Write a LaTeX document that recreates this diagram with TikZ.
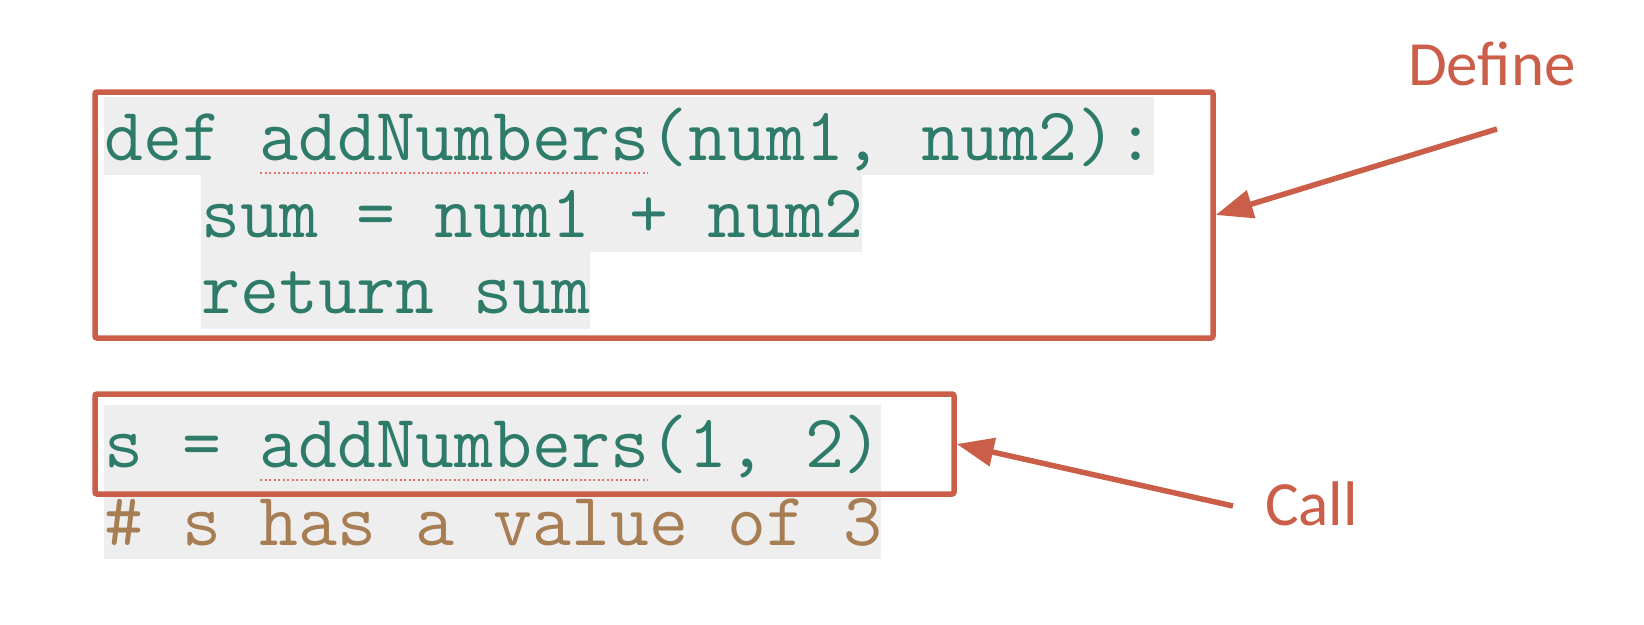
\documentclass[tikz,border=0pt]{standalone}
\usepackage{fontspec}
\newfontfamily\calib{Carlito}
\usetikzlibrary{arrows.meta}
\definecolor{boxred}{RGB}{203,94,73}
\definecolor{codeteal}{RGB}{46,123,106}
\definecolor{combrown}{RGB}{167,125,84}
\definecolor{hlgray}{RGB}{238,238,238}
\definecolor{squig}{RGB}{228,110,105}
\tikzset{
  codeline/.style={anchor=base west, inner sep=0pt, text=codeteal, font=\fontsize{75.6}{78}\selectfont\ttfamily},
  commentline/.style={codeline, text=combrown},
  hl/.style={fill=hlgray},
  framebox/.style={draw=boxred, line width=5.5pt, rounded corners=2pt, inner sep=0pt, fill=none},
  lbl/.style={anchor=base west, inner sep=0pt, text=boxred, font=\fontsize{63}{70}\selectfont\calib},
  pointer/.style={draw=boxred, line width=5.5pt, -{Triangle[length=37pt,width=28pt]}},
  squiggle/.style={draw=squig, line width=1.3pt, dash pattern=on 2pt off 2.5pt}
}
\begin{document}
\begin{tikzpicture}[x=1pt,y=-1pt]
\useasboundingbox (0,0) rectangle (1644,624);
% highlight backgrounds
\fill[hl] (104,97) rectangle (1154,175);
\fill[hl] (201,175) rectangle (862,252);
\fill[hl] (201,252) rectangle (590,329);
\fill[hl] (104,405) rectangle (881,482);
\fill[hl] (104,482) rectangle (881,559);
% spell-check squiggles
\draw[squiggle] (260,173) -- (648,173);
\draw[squiggle] (260,480) -- (648,480);
% code
\node[codeline] (l1) at (104,160) {def addNumbers(num1, num2):};
\node[codeline] (l2) at (201,237) {sum = num1 + num2};
\node[codeline] (l3) at (201,313) {return sum};
\node[codeline] (l4) at (104,467) {s = addNumbers(1, 2)};
\node[commentline] (l5) at (104,545) {\# s has a value of 3};
% frames
\node[framebox, minimum width=1118pt, minimum height=246pt] (defbox) at (654,215) {};
\node[framebox, minimum width=859pt, minimum height=100pt] (callbox) at (524.5,444) {};
% labels
\node[lbl] (deflbl) at (1408,85) {Define};
\node[lbl] (calllbl) at (1265,525) {Call};
\coordinate (deftail) at (1497,129);
\coordinate (calltail) at (1233,506);
\draw[pointer] (deftail) -- (defbox.east);
\draw[pointer] (calltail) -- (callbox.east);
\end{tikzpicture}
\end{document}
